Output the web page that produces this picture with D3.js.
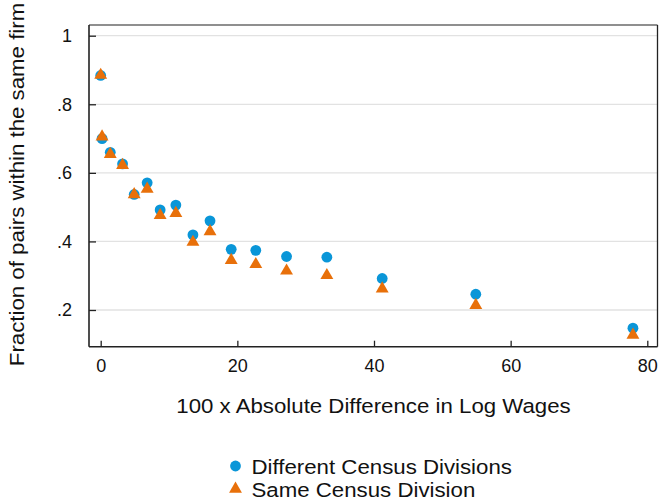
<!DOCTYPE html>
<html><head><meta charset="utf-8">
<script src="https://cdn.jsdelivr.net/npm/d3@7"></script>
<style>body{margin:0;background:#fff}svg{display:block}text{font-family:"Liberation Sans",Arial,sans-serif;fill:#111}</style>
</head><body><div id="chart"></div>
<script>
const xVals = [0.0, 0.2, 1.4, 3.2, 4.9, 6.8, 8.7, 11.0, 13.5, 16.0, 19.1, 22.7, 27.2, 33.1, 41.2, 54.9, 77.9];
const diffDivisions = [0.884, 0.700, 0.660, 0.626, 0.537, 0.571, 0.492, 0.506, 0.419, 0.460, 0.377, 0.374, 0.356, 0.354, 0.292, 0.246, 0.147];
const sameDivision = [0.888, 0.708, 0.657, 0.625, 0.540, 0.556, 0.479, 0.485, 0.401, 0.432, 0.348, 0.336, 0.317, 0.304, 0.265, 0.217, 0.130];
const xTicks = [0, 20, 40, 60, 80];
const yTicks = [0.2, 0.4, 0.6, 0.8, 1];
const yTickLabels = [".2", ".4", ".6", ".8", "1"];
const seriesNames = ["Different Census Divisions", "Same Census Division"];
const colors = ["#0a96d8", "#e8700a"];

const W = 659, H = 504;
const L = 89, R = 657.5, T = 25, B = 346.7;
const svg = d3.select("#chart").append("svg").attr("width", W).attr("height", H);

const x = d3.scaleLinear().domain([0, 80]).range([100.7, 647.3]);
const y = d3.scaleLinear().domain([0.2, 1]).range([310, 35.7]);

function stretch(sel, k) {
  sel.each(function () {
    const len = this.getComputedTextLength();
    d3.select(this).attr("textLength", len * k).attr("lengthAdjust", "spacingAndGlyphs");
  });
  return sel;
}

// gridlines
svg.append("g").selectAll("line").data(yTicks).join("line")
  .attr("x1", L).attr("x2", R).attr("y1", d => y(d)).attr("y2", d => y(d))
  .attr("stroke", "#e2e2e2").attr("stroke-width", 1.3);

// frame top & right
svg.append("line").attr("x1", L).attr("x2", R).attr("y1", T).attr("y2", T).attr("stroke", "#6a6a6a").attr("stroke-width", 1.3);
svg.append("line").attr("x1", R).attr("x2", R).attr("y1", T).attr("y2", B).attr("stroke", "#222").attr("stroke-width", 1.3);

// axes
const yAxis = d3.axisLeft(y).tickValues(yTicks).tickFormat((d, i) => yTickLabels[i]).tickSizeInner(-7).tickSizeOuter(0).tickPadding(17);
const gy = svg.append("g").attr("transform", `translate(${L},0)`).call(yAxis);
gy.select(".domain").attr("d", `M0,${T}V${B}`).attr("stroke", "#222").attr("stroke-width", 1.6);
gy.selectAll(".tick line").attr("stroke", "#222").attr("stroke-width", 1.3);
gy.selectAll(".tick text").style("font-size", "18px").attr("fill", "#111").attr("font-family", null);

const xAxis = d3.axisBottom(x).tickValues(xTicks).tickSizeInner(-6).tickSizeOuter(0).tickPadding(12);
const gx = svg.append("g").attr("transform", `translate(0,${B})`).call(xAxis);
gx.select(".domain").attr("d", `M${L},0H${R}`).attr("stroke", "#222").attr("stroke-width", 1.6);
gx.selectAll(".tick line").attr("stroke", "#222").attr("stroke-width", 1.3);
gx.selectAll(".tick text").style("font-size", "18px").attr("fill", "#111").attr("font-family", null)
  .attr("y", 25).attr("dy", null);

// points
const circ = d3.symbol().type(d3.symbolCircle).size(Math.PI * 5.4 * 5.4);
const tri = d3.symbol().type(d3.symbolTriangle).size(72);
svg.append("g").selectAll("path").data(xVals.map((v, i) => [v, diffDivisions[i]])).join("path")
  .attr("d", circ).attr("transform", d => `translate(${x(d[0])},${y(d[1])})`).attr("fill", colors[0]);
svg.append("g").selectAll("path").data(xVals.map((v, i) => [v, sameDivision[i]])).join("path")
  .attr("d", tri).attr("transform", d => `translate(${x(d[0])},${y(d[1]) + 1})`).attr("fill", colors[1]);

// titles
const k = 1.085;
stretch(svg.append("text").attr("x", 373.5).attr("y", 413).attr("text-anchor", "middle").style("font-size", "20.5px")
  .text("100 x Absolute Difference in Log Wages"), k);
stretch(svg.append("text").attr("transform", "translate(24,184.5) rotate(-90)").attr("text-anchor", "middle").style("font-size", "20.5px")
  .text("Fraction of pairs within the same firm"), k);

// legend
const lg = svg.append("g");
lg.append("path").attr("d", circ).attr("transform", "translate(235.5,466)").attr("fill", colors[0]);
lg.append("path").attr("d", tri).attr("transform", "translate(235.5,489)").attr("fill", colors[1]);
stretch(lg.append("text").attr("x", 251.5).attr("y", 474).style("font-size", "20.5px").text(seriesNames[0]), k);
stretch(lg.append("text").attr("x", 251.5).attr("y", 496.5).style("font-size", "20.5px").text(seriesNames[1]), k);
</script></body></html>
